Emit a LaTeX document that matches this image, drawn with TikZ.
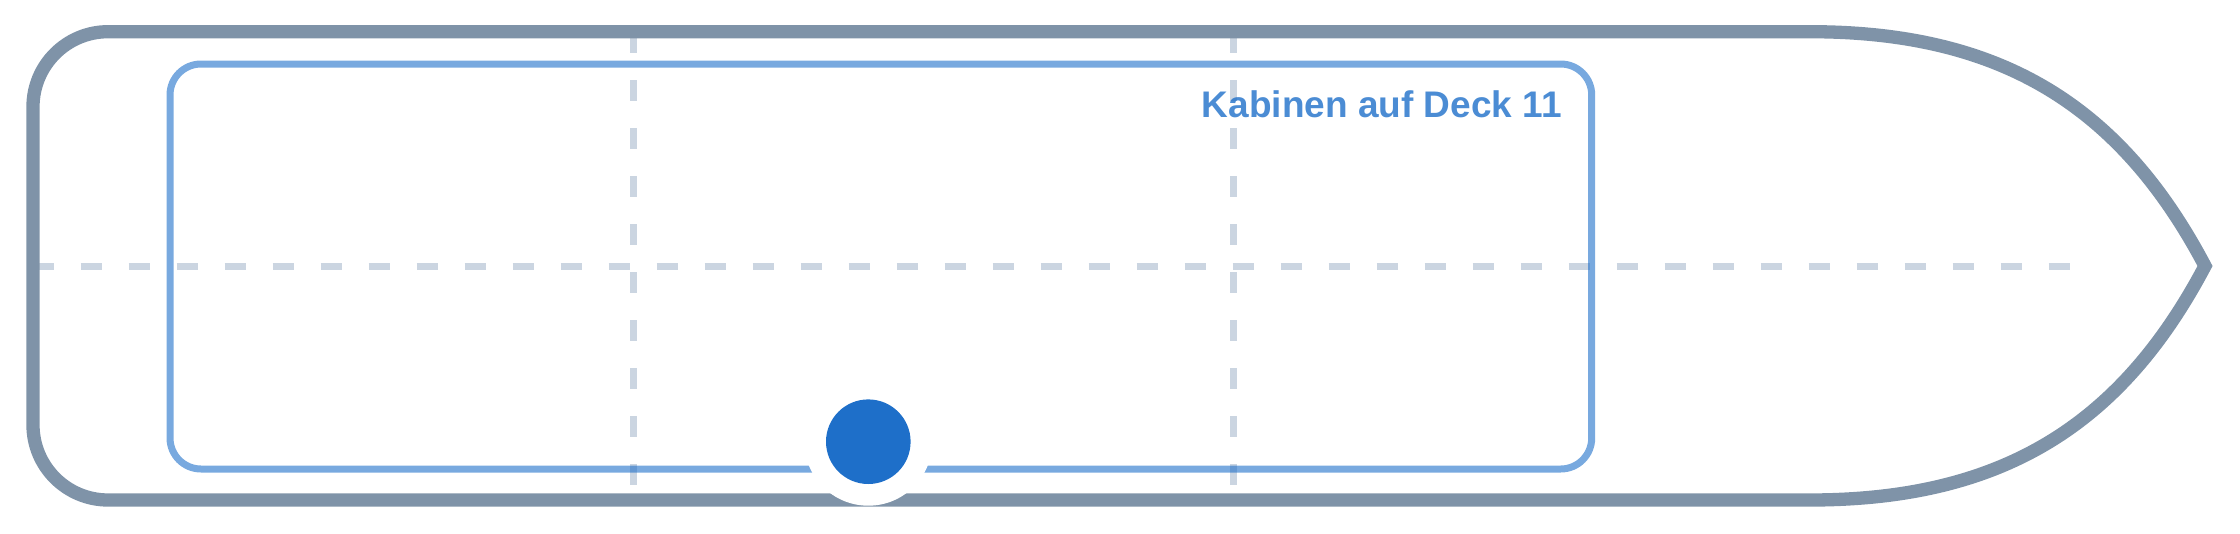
\documentclass[tikz,border=0pt]{standalone}
\usepackage{fontspec}
\setmainfont{Liberation Sans}
\definecolor{hullc}{HTML}{7F93A8}
\definecolor{dashc}{HTML}{CBD5E1}
\definecolor{dotc}{HTML}{1E6FC9}
\begin{document}
\begin{tikzpicture}[x=1pt,y=-1pt,
  hull/.style={draw=hullc,line width=13.3pt},
  guide/.style={draw=dashc,line width=7pt,dash pattern=on 21pt off 27pt},
  cabin/.style={draw=dotc,draw opacity=0.6,line width=7pt,rounded corners=31pt},
  label/.style={text=dotc,text opacity=0.8,font=\bfseries\fontsize{37}{44}\selectfont,inner sep=0pt,anchor=base east},
  halo/.style={circle,fill=white,minimum size=128pt,inner sep=0pt},
  marker/.style={circle,fill=dotc,minimum size=84.6pt,inner sep=0pt}]
\useasboundingbox (0,0) rectangle (2240,533);
% guide lines
\draw[guide] (32.7,266.7) -- (2070,266.7);
\draw[guide] (633,32.3) -- (633,500);
\draw[guide] (1233,32.3) -- (1233,500);
% cabin area
\draw[cabin] (170,64) rectangle (1591.7,469);
% hull
\draw[hull] (1810,31.7) -- (108,31.7)
  .. controls (66.6,31.7) and (33,65.3) .. (33,106.7)
  -- (33,425)
  .. controls (33,466.4) and (66.6,500) .. (108,500)
  -- (1810,500)
  .. controls (2000,500) and (2120,427) .. (2205,266)
  .. controls (2120,105) and (2000,31.7) .. (1810,31.7) -- cycle;
% label
\node[label] (title) at (1562,117.3) {Kabinen auf Deck 11};
% marker
\node[halo] (markerhalo) at (868.3,441.7) {};
\node[marker] (markerdot) at (868.3,441.7) {};
\end{tikzpicture}
\end{document}
